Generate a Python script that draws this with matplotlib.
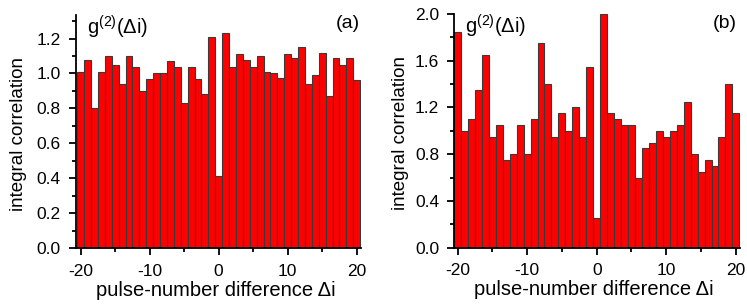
import matplotlib
matplotlib.use("Agg")
import matplotlib.pyplot as plt
import numpy as np
from matplotlib.ticker import MultipleLocator

plt.rcParams['font.family'] = ['Liberation Sans', 'DejaVu Sans']
plt.rcParams['mathtext.fontset'] = 'custom'
plt.rcParams['mathtext.rm'] = 'Liberation Sans'
plt.rcParams['mathtext.it'] = 'Liberation Sans'
plt.rcParams['axes.unicode_minus'] = False

delta_i = list(range(-20, 21))

corr_a = [1.01, 1.08, 0.80, 1.01, 1.10, 1.05, 0.94, 1.10, 1.04, 0.90,
          0.97, 1.00, 1.00, 1.07, 1.04, 0.83, 1.04, 0.97, 0.88, 1.21,
          0.41,
          1.23, 1.04, 1.11, 1.08, 1.04, 1.10, 1.01, 1.00, 0.975, 1.11,
          1.09, 1.15, 0.94, 0.99, 1.12, 0.87, 1.09, 1.05, 1.09, 0.965]

corr_b = [1.85, 1.00, 1.10, 1.35, 1.65, 0.95, 1.05, 0.75, 0.80, 1.05,
          0.80, 1.10, 1.75, 1.40, 0.95, 1.15, 1.00, 1.20, 0.95, 1.55,
          0.25,
          2.00, 1.15, 1.10, 1.05, 1.05, 0.60, 0.85, 0.90, 1.00, 0.95,
          1.00, 1.05, 1.25, 0.80, 0.65, 0.75, 0.70, 0.95, 1.40, 1.15]

xticks = [-20, -10, 0, 10, 20]
yticks_a = [0.0, 0.2, 0.4, 0.6, 0.8, 1.0, 1.2]
yticks_b = [0.0, 0.4, 0.8, 1.2, 1.6, 2.0]

fig = plt.figure(figsize=(7.47, 3.06), dpi=100)
ax_a = fig.add_axes([0.1017, 0.1895, 0.3815, 0.7614])
ax_b = fig.add_axes([0.6078, 0.1905, 0.3829, 0.7637])

def style(ax, vals, yticks, ylim, yminor, xlim, tag, tagpos, titlex, ylab_x):
    ax.bar(delta_i, vals, width=1.0, color='#ff0000', edgecolor='#3a3a3a',
           linewidth=0.8)
    ax.set_xlim(*xlim)
    ax.set_ylim(*ylim)
    ax.set_xticks(xticks)
    ax.set_yticks(yticks)
    ax.set_yticklabels([f"{v:.1f}" for v in yticks])
    ax.xaxis.set_minor_locator(MultipleLocator(5))
    ax.yaxis.set_minor_locator(MultipleLocator(yminor))
    for s in ['top', 'right']:
        ax.spines[s].set_visible(False)
    for s in ['left', 'bottom']:
        ax.spines[s].set_linewidth(1.3)
    ax.tick_params(which='major', direction='out', length=4.8, width=1.3,
                   labelsize=12.5)
    ax.tick_params(which='minor', direction='out', length=3, width=1.3)
    ax.tick_params(axis='x', which='major', pad=6.5)
    ax.tick_params(axis='y', which='major', pad=6)
    ax.set_ylabel('integral correlation', fontsize=13.5)
    ax.yaxis.set_label_coords(ylab_x, 0.49)
    ax.set_xlabel('pulse-number difference Δi', fontsize=14.5)
    ax.xaxis.set_label_coords(0.49, -0.14)
    ax.text(titlex, 1.005, r'g$^{(2)}$(Δi)', transform=ax.transAxes,
            ha='left', va='top', fontsize=14.5)
    ax.text(tagpos[0], tagpos[1], tag, transform=ax.transAxes,
            ha='right', va='center', fontsize=14)

style(ax_a, corr_a, yticks_a, (0, 1.335), 0.1, (-20.68, 20.62), '(a)',
      (0.9965, 0.9635), 0.039, -0.172)
style(ax_b, corr_b, yticks_b, (0, 2.0), 0.2, (-20.5, 20.6), '(b)',
      (0.9895, 0.959), 0.038, -0.157)

fig.savefig('out.png', dpi=100)
